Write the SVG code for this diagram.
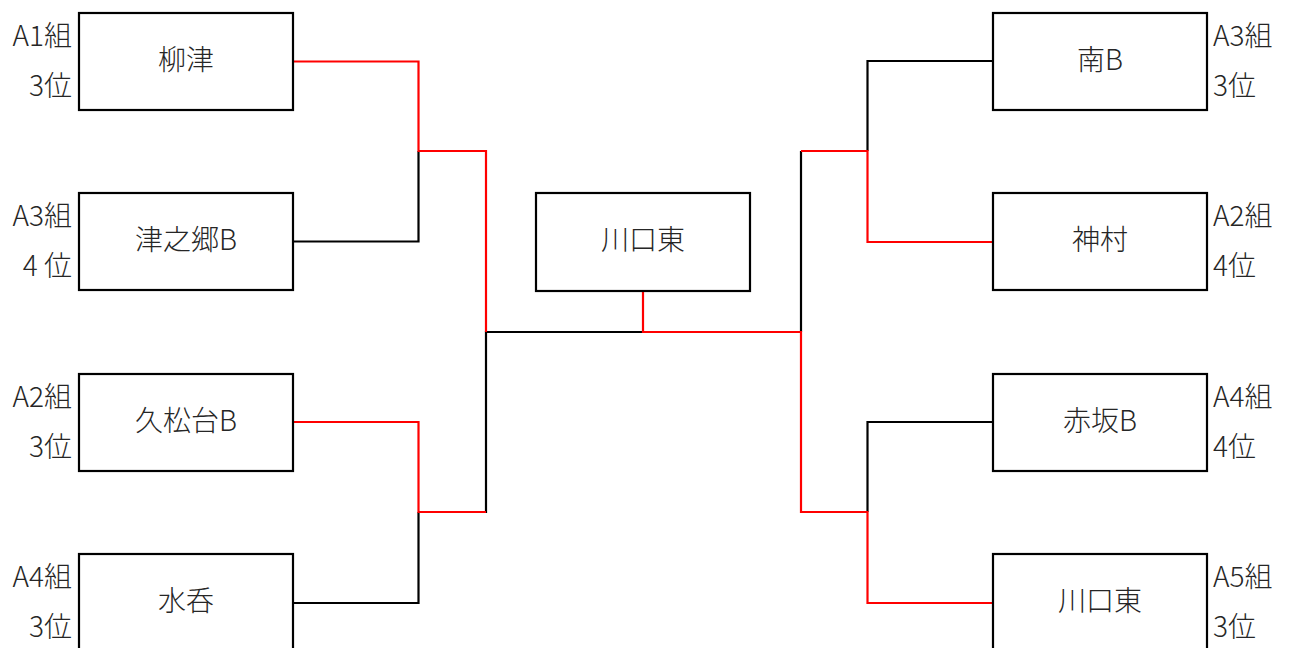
<svg xmlns="http://www.w3.org/2000/svg" width="1292" height="648" viewBox="0 0 1292 648">
<style>
.box{fill:#fff;stroke:#000;stroke-width:2.2}
.t{font-family:"Noto Sans CJK JP","Noto Sans",sans-serif;font-size:28px;font-weight:300;fill:#262626}
.c{text-anchor:middle}
.r{text-anchor:end}
.k{fill:none;stroke:#000;stroke-width:2.2}
.w{fill:none;stroke:#f00;stroke-width:2.2}
</style>
<rect width="1292" height="648" fill="#fff"/>
<g id="connectors">
<path class="k" d="M294 241.5H418.5V151"/>
<path class="k" d="M294 603H418.5V512"/>
<path class="k" d="M486 513V332H643"/>
<path class="k" d="M992 61H867.5V151"/>
<path class="k" d="M992 422H867.5V512"/>
<path class="k" d="M801 151V332"/>
<path class="w" d="M294 61.5H418.5V151H486V332"/>
<path class="w" d="M294 422H418.5V512H486"/>
<path class="w" d="M643 291V332H801V512H867.5V603H992"/>
<path class="w" d="M801 151H867.5V242H992"/>
</g>
<g id="n1"><rect class="box" x="79" y="13" width="214" height="97"/><text class="t c" x="186" y="70">柳津</text><text class="t r" x="72" y="46">A1組</text><text class="t r" x="72" y="96">3位</text></g>
<g id="n2"><rect class="box" x="79" y="193" width="214" height="97"/><text class="t c" x="186" y="250">津之郷B</text><text class="t r" x="72" y="226">A3組</text><text class="t r" x="72" y="276">4 位</text></g>
<g id="n3"><rect class="box" x="79" y="374" width="214" height="97"/><text class="t c" x="186" y="431">久松台B</text><text class="t r" x="72" y="407">A2組</text><text class="t r" x="72" y="457">3位</text></g>
<g id="n4"><rect class="box" x="79" y="554" width="214" height="110"/><text class="t c" x="186" y="611">水呑</text><text class="t r" x="72" y="587">A4組</text><text class="t r" x="72" y="637">3位</text></g>
<g id="n5"><rect class="box" x="536" y="193" width="214" height="98"/><text class="t c" x="643" y="250">川口東</text></g>
<g id="n6"><rect class="box" x="993" y="13" width="214" height="97"/><text class="t c" x="1100" y="70">南B</text><text class="t" x="1213" y="46">A3組</text><text class="t" x="1213" y="96">3位</text></g>
<g id="n7"><rect class="box" x="993" y="193" width="214" height="97"/><text class="t c" x="1100" y="250">神村</text><text class="t" x="1213" y="226">A2組</text><text class="t" x="1213" y="276">4位</text></g>
<g id="n8"><rect class="box" x="993" y="374" width="214" height="97"/><text class="t c" x="1100" y="431">赤坂B</text><text class="t" x="1213" y="407">A4組</text><text class="t" x="1213" y="457">4位</text></g>
<g id="n9"><rect class="box" x="993" y="554" width="214" height="110"/><text class="t c" x="1100" y="611">川口東</text><text class="t" x="1213" y="587">A5組</text><text class="t" x="1213" y="637">3位</text></g>
</svg>
